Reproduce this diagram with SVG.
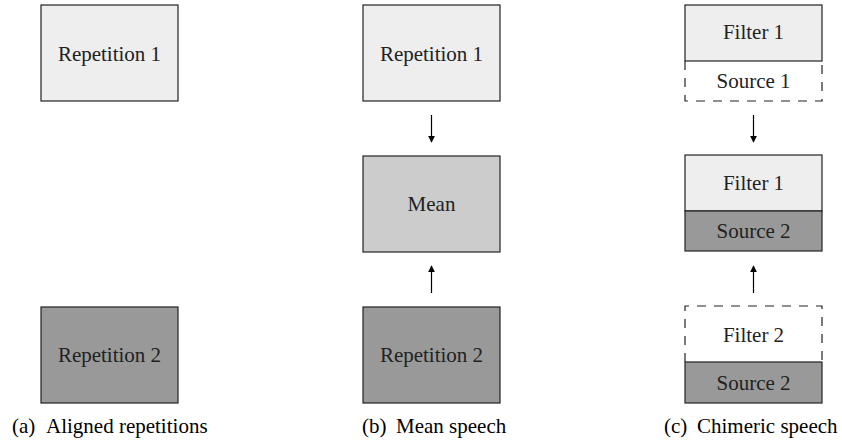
<svg xmlns="http://www.w3.org/2000/svg" width="842" height="443" viewBox="0 0 842 443">
<defs>
<style>
.box{stroke:#222;stroke-width:1.2}
.l1{fill:#eeeeee}
.l2{fill:#cccccc}
.l3{fill:#999999}
.dash{fill:none;stroke:#222;stroke-width:1.2;stroke-dasharray:9 8}
.t{font-size:21px;fill:#222;text-anchor:middle}
.cap{font-size:21px;fill:#000}
.arr{stroke:#000;stroke-width:1.2;fill:none;marker-end:url(#ah)}
</style>
<marker id="ah" viewBox="0 0 10 10" refX="9" refY="5" markerWidth="7" markerHeight="8" markerUnits="userSpaceOnUse" orient="auto">
<path d="M0,0 L10,5 L0,10 Z" fill="#000"/>
</marker>
</defs>
<g font-family="Liberation Serif, serif">
<g id="a-rep1"><rect class="box l1" x="41" y="5" width="137" height="96"/><text class="t" x="109.5" y="61">Repetition 1</text></g>
<g id="a-rep2"><rect class="box l3" x="41" y="307" width="137" height="96"/><text class="t" x="109.5" y="362">Repetition 2</text></g>
<g id="b-rep1"><rect class="box l1" x="363" y="5" width="137" height="96"/><text class="t" x="431.5" y="61">Repetition 1</text></g>
<g id="b-mean"><rect class="box l2" x="363" y="156" width="137" height="96"/><text class="t" x="431.5" y="211">Mean</text></g>
<g id="b-rep2"><rect class="box l3" x="363" y="307" width="137" height="96"/><text class="t" x="431.5" y="362">Repetition 2</text></g>
<g id="c-src1"><path class="dash" d="M685,61 L685,101 L822,101 L822,61"/><text class="t" x="753.5" y="88">Source 1</text></g>
<g id="c-fil1-top"><rect class="box l1" x="685" y="5" width="137" height="56"/><text class="t" x="753.5" y="39">Filter 1</text></g>
<g id="c-fil1-mid"><rect class="box l1" x="685" y="155" width="137" height="56"/><text class="t" x="753.5" y="190">Filter 1</text></g>
<g id="c-src2-mid"><rect class="box l3" x="685" y="211" width="137" height="40"/><text class="t" x="753.5" y="238">Source 2</text></g>
<g id="c-fil2"><path class="dash" d="M685,362 L685,306 L822,306 L822,362"/><text class="t" x="753.5" y="342">Filter 2</text></g>
<g id="c-src2-bot"><rect class="box l3" x="685" y="362" width="137" height="41"/><text class="t" x="753.5" y="390">Source 2</text></g>
<g id="connectors">
<line class="arr" x1="431.5" y1="115" x2="431.5" y2="142"/>
<line class="arr" x1="431.5" y1="293" x2="431.5" y2="266"/>
<line class="arr" x1="753.5" y1="115" x2="753.5" y2="142"/>
<line class="arr" x1="753.5" y1="293" x2="753.5" y2="266"/>
</g>
<g id="captions">
<text class="cap" font-family="Liberation Serif" x="12" y="433">(a)</text><text class="cap" font-family="Liberation Serif" x="46" y="433">Aligned repetitions</text>
<text class="cap" font-family="Liberation Serif" x="362" y="433">(b)</text><text class="cap" font-family="Liberation Serif" x="396" y="433">Mean speech</text>
<text class="cap" font-family="Liberation Serif" x="664" y="433">(c)</text><text class="cap" font-family="Liberation Serif" x="697" y="433">Chimeric speech</text>
</g>
</g>
</svg>
